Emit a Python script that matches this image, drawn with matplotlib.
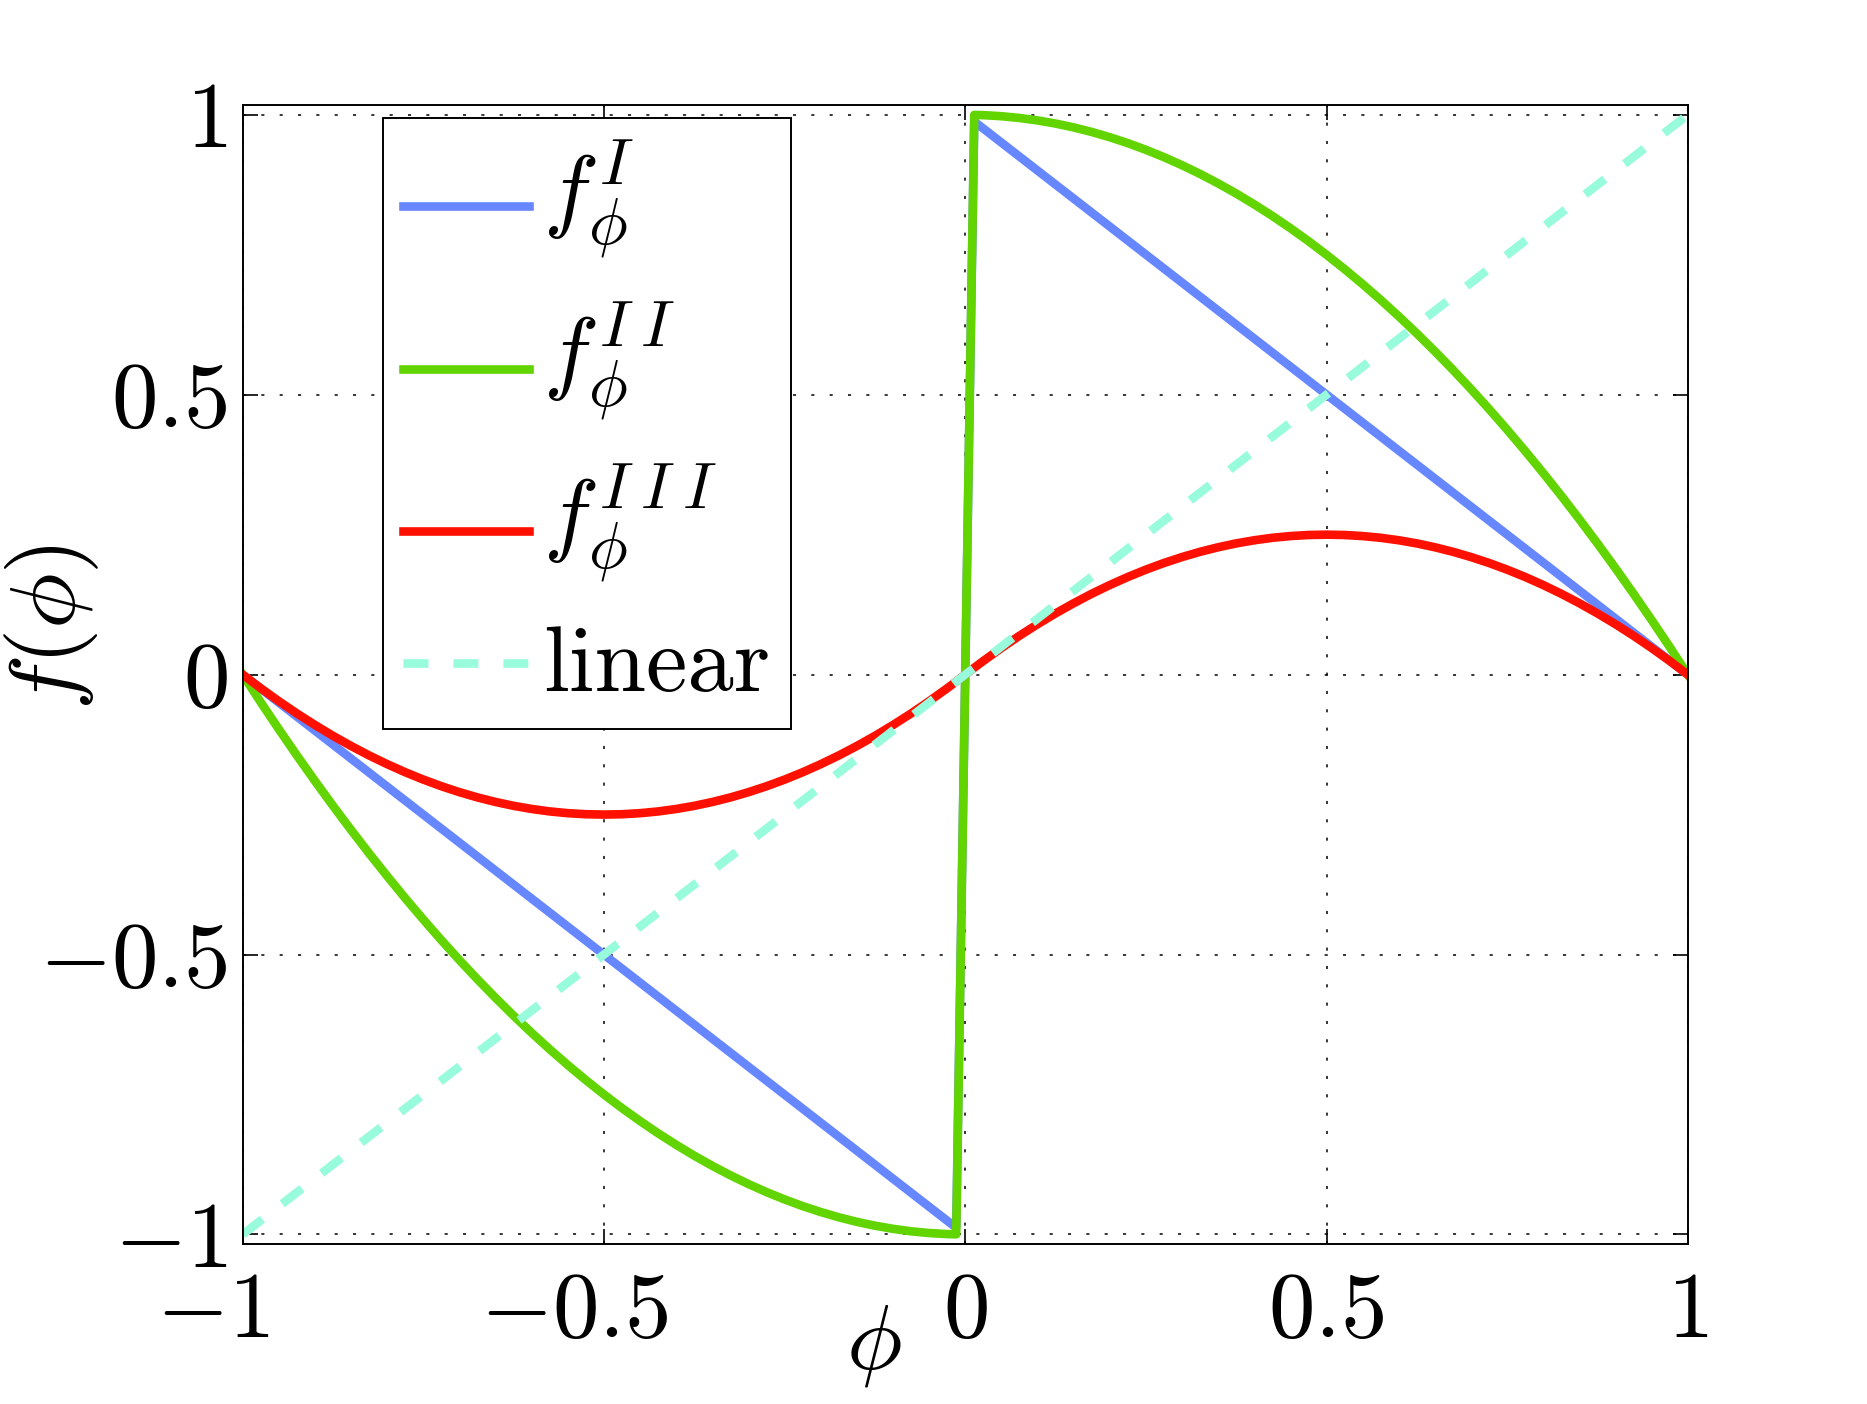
import matplotlib
matplotlib.use("Agg")
import matplotlib.pyplot as plt
from matplotlib.transforms import ScaledTranslation

plt.rcParams['font.family'] = ['cmr10', 'DejaVu Serif']
plt.rcParams['mathtext.fontset'] = 'cm'
plt.rcParams['axes.formatter.use_mathtext'] = True

# valores
phi = [-1.0, -0.975, -0.95, -0.925, -0.9, -0.875, -0.85, -0.825, -0.8, -0.775,
       -0.75, -0.725, -0.7, -0.675, -0.65, -0.625, -0.6, -0.575, -0.55, -0.525,
       -0.5, -0.475, -0.45, -0.425, -0.4, -0.375, -0.35, -0.325, -0.3, -0.275,
       -0.25, -0.225, -0.2, -0.175, -0.15, -0.125, -0.1, -0.075, -0.05, -0.025,
       -0.0125, 0.0125,
       0.025, 0.05, 0.075, 0.1, 0.125, 0.15, 0.175, 0.2, 0.225, 0.25,
       0.275, 0.3, 0.325, 0.35, 0.375, 0.4, 0.425, 0.45, 0.475, 0.5,
       0.525, 0.55, 0.575, 0.6, 0.625, 0.65, 0.675, 0.7, 0.725, 0.75,
       0.775, 0.8, 0.825, 0.85, 0.875, 0.9, 0.925, 0.95, 0.975, 1.0]

# f^I: duas retas
phi_I = [-1.0, -0.0125, 0.0125, 1.0]
f_I = [0.0, -0.988, 0.988, 0.0]

f_II = [0.0, -0.0494, -0.0975, -0.1444, -0.19, -0.2344, -0.2775, -0.3194, -0.36, -0.3994,
        -0.4375, -0.4744, -0.51, -0.5444, -0.5775, -0.6094, -0.64, -0.6694, -0.6975, -0.7244,
        -0.75, -0.7744, -0.7975, -0.8194, -0.84, -0.8594, -0.8775, -0.8944, -0.91, -0.9244,
        -0.9375, -0.9494, -0.96, -0.9694, -0.9775, -0.9844, -0.99, -0.9944, -0.9975, -0.9994,
        -0.9998, 0.9998,
        0.9994, 0.9975, 0.9944, 0.99, 0.9844, 0.9775, 0.9694, 0.96, 0.9494, 0.9375,
        0.9244, 0.91, 0.8944, 0.8775, 0.8594, 0.84, 0.8194, 0.7975, 0.7744, 0.75,
        0.7244, 0.6975, 0.6694, 0.64, 0.6094, 0.5775, 0.5444, 0.51, 0.4744, 0.4375,
        0.3994, 0.36, 0.3194, 0.2775, 0.2344, 0.19, 0.1444, 0.0975, 0.0494, 0.0]

f_III = [0.0, -0.0244, -0.0475, -0.0694, -0.09, -0.1094, -0.1275, -0.1444, -0.16, -0.1744,
         -0.1875, -0.1994, -0.21, -0.2194, -0.2275, -0.2344, -0.24, -0.2444, -0.2475, -0.2494,
         -0.25, -0.2494, -0.2475, -0.2444, -0.24, -0.2344, -0.2275, -0.2194, -0.21, -0.1994,
         -0.1875, -0.1744, -0.16, -0.1444, -0.1275, -0.1094, -0.09, -0.0694, -0.0475, -0.0244,
         -0.0123, 0.0123,
         0.0244, 0.0475, 0.0694, 0.09, 0.1094, 0.1275, 0.1444, 0.16, 0.1744, 0.1875,
         0.1994, 0.21, 0.2194, 0.2275, 0.2344, 0.24, 0.2444, 0.2475, 0.2494, 0.25,
         0.2494, 0.2475, 0.2444, 0.24, 0.2344, 0.2275, 0.2194, 0.21, 0.1994, 0.1875,
         0.1744, 0.16, 0.1444, 0.1275, 0.1094, 0.09, 0.0694, 0.0475, 0.0244, 0.0]

linear_x = [-1.0, 1.0]
linear_y = [-1.0, 1.0]

ticks = [-1, -0.5, 0, 0.5, 1]
tick_labels = [r'$-1$', r'$-0.5$', r'$0$', r'$0.5$', r'$1$']
nomes = [r'$f_{\phi}^{I}$', r'$f_{\phi}^{I\:I}$', r'$f_{\phi}^{I\:I\:I}$', 'linear']

fs = 67
fig = plt.figure(figsize=(18.67, 14.04), dpi=100)
ax = fig.add_axes([0.130, 0.114, 0.774, 0.811])

lw = 6.2
ax.plot(phi_I, f_I, color='#6687ff', lw=lw, label=nomes[0])
ax.plot(phi, f_II, color='#62d400', lw=lw, label=nomes[1])
ax.plot(phi, f_III, color='#ff1000', lw=lw, label=nomes[2])
ax.plot(linear_x, linear_y, color='#98fcdc', lw=lw, linestyle=(0, (2.9, 2.9)),
        dash_capstyle='butt', label=nomes[3])

ax.set_xlim(-1, 1)
ax.set_ylim(-1.017, 1.017)
ax.set_xticks(ticks)
ax.set_xticklabels(tick_labels)
ax.set_yticks(ticks)
ax.set_yticklabels(tick_labels)

ax.grid(True, color='black', linestyle=(0, (2, 10)), linewidth=1.1)
ax.set_axisbelow(True)
ax.tick_params(direction='in', top=True, right=True, length=11, width=1.2,
               labelsize=fs)
ax.tick_params(axis='x', pad=20)
ax.tick_params(axis='y', pad=11)
for s in ax.spines.values():
    s.set_linewidth(1.4)

# rotulos negativos do eixo x ficam deslocados para a esquerda
desloc = ScaledTranslation(-0.3, 0, fig.dpi_scale_trans)
for lab in ax.get_xticklabels()[:2]:
    lab.set_transform(lab.get_transform() + desloc)

ax.set_xlabel(r'$\phi$', fontsize=fs)
ax.xaxis.set_label_coords(0.437, -0.052)
ax.set_ylabel(r'$f(\phi)$', fontsize=fs)
ax.yaxis.set_label_coords(-0.098, 0.542)

leg = ax.legend(loc='upper left', bbox_to_anchor=(0.097, 0.989), borderaxespad=0,
                fontsize=fs, fancybox=False, framealpha=1, edgecolor='black',
                handlelength=1.35, handletextpad=0.15, borderpad=0.22,
                labelspacing=0.43)
leg.get_frame().set_linewidth(1.4)

# linhas da legenda um pouco mais baixas, como no original
for h, dy in zip(leg.legend_handles, [-13, -13, -13, -3.5]):
    h.set_ydata([y + dy for y in h.get_ydata()])

plt.savefig('out.png', dpi=100)
